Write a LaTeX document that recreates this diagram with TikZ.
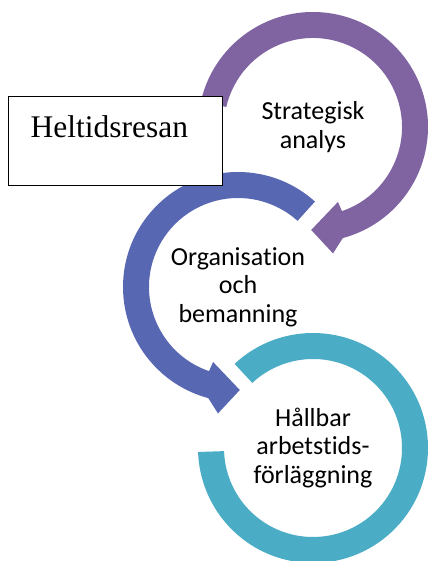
\documentclass[tikz,border=0pt]{standalone}
\usepackage{fontspec}
\setmainfont{Carlito}[Ligatures=NoCommon]
\newfontfamily\titlefont{Liberation Serif}
\usetikzlibrary{positioning}
\definecolor{ringPurple}{HTML}{8064A2}
\definecolor{ringBlue}{HTML}{5867B2}
\definecolor{ringTeal}{HTML}{4BACC6}

\begin{document}
\begin{tikzpicture}[
x=1pt, y=1pt,
ring/.style={draw=none},
stage/.style={align=center, font=\fontsize{26}{28.5}\selectfont},
titlebox/.style={draw, line width=1.3pt, fill=white, anchor=north west, inner xsep=22pt, inner ysep=0pt,
  text height=41pt, text depth=48pt, text width=170pt, align=left, font=\titlefont\fontsize{31.5}{36}\selectfont}
]
\useasboundingbox (0,0) rectangle (430,561);

\coordinate (cStrat) at (313,434);
\coordinate (cOrg) at (238,274);
\coordinate (cHall) at (313,113);

% purple ring, clockwise
\begin{scope}[shift={(cStrat)}]
\fill[ring, ringPurple] (167:115) arc[start angle=167, end angle=-75, radius=115]
  -- (-81:128) -- (-91:103) -- (-71.6:79) -- (-71:89)
  arc[start angle=-71, end angle=167, radius=89] -- cycle;
\end{scope}

% blue ring, counter clockwise
\begin{scope}[shift={(cOrg)}]
\fill[ring, ringBlue] (48:115) arc[start angle=48, end angle=255, radius=115]
  -- (261:128) -- (271:103) -- (251.6:79) -- (251:89)
  arc[start angle=251, end angle=48, radius=89] -- cycle;
\end{scope}

% teal ring, no head
\begin{scope}[shift={(cHall)}]
\fill[ring, ringTeal] (133:115) arc[start angle=133, end angle=-178, radius=115]
  -- (-178:89) arc[start angle=-178, end angle=133, radius=89] -- cycle;
\end{scope}

\node[stage] (strat) at (cStrat) {Strategisk\\analys};
\node[stage] (org) at (cOrg) {Organisation\\och\\bemanning};
\node[stage] (hall) at (cHall) {Hållbar\\arbetstids-\\förläggning};

\node[titlebox] (title) at (8,465) {Heltidsresan};
\end{tikzpicture}
\end{document}
